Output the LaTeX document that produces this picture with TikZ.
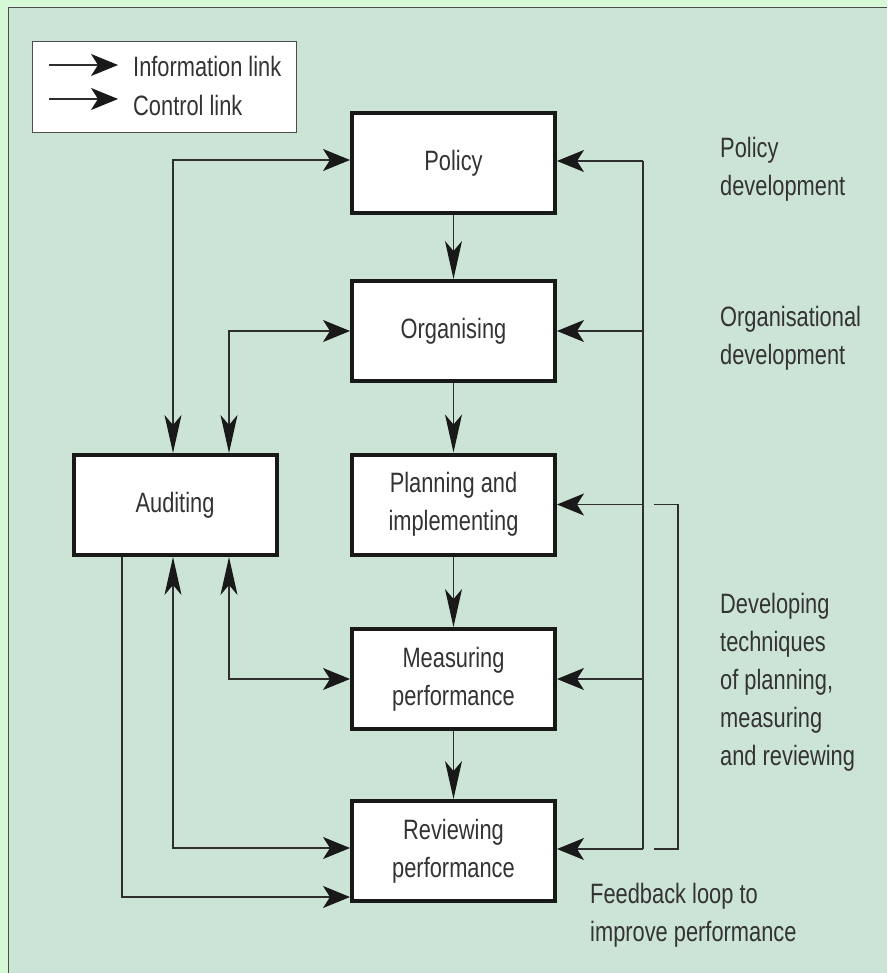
\documentclass[tikz,border=0pt]{standalone}
\usepackage{fontspec}
\setmainfont[FakeStretch=0.78]{Liberation Sans}
\usetikzlibrary{arrows.meta}
\definecolor{panel}{HTML}{CCE4D6}
\definecolor{rim}{HTML}{D6F8D6}
\definecolor{ink}{HTML}{2E2E2E}
\begin{document}
\begin{tikzpicture}[x=1pt, y=-1pt]
    \tikzset{htip/.tip={Stealth[length=27pt, width=22pt, inset=7pt, color=black!90]}}
    \tikzset{vtip/.tip={Stealth[length=38pt, width=17pt, inset=10pt, color=black!90]}}
    \tikzset{box/.style={draw=black!90, line width=4pt, fill=white, minimum width=203pt, minimum height=100pt, align=center, text=black!80, font=\fontsize{28}{38}\selectfont}}
    \tikzset{note/.style={align=left, anchor=base west, inner sep=0pt, text=black!80, font=\fontsize{28}{38}\selectfont}}
    \tikzset{link/.style={draw=ink, line width=1.3pt}}

    \useasboundingbox (0,0) rectangle (887,973);
    \fill[rim] (0,0) rectangle (887,973);
    \fill[panel] (8,8) rectangle (887,973);
    \draw[gray!60!black, line width=1pt] (8,973) -- (8,8) -- (887,8);

    \node[draw=black!70, fill=white, line width=1pt, minimum width=264pt, minimum height=91pt] (Legend) at (164.5,87) {};
    \coordinate (InfoTail) at (49,65);
    \coordinate (CtrlTail) at (49,99);
    \draw[link,-htip] (InfoTail) -- ++(69,0);
    \draw[link,-htip] (CtrlTail) -- ++(69,0);
    \node[note] (InfoText) at (133,77) {Information link};
    \node[note] (CtrlText) at (133,116) {Control link};

    \node[box] (Policy) at (453.5,163) {Policy};
    \node[box] (Organising) at (453.5,331) {Organising};
    \node[box] (Planning) at (453.5,504.5) {Planning and\\implementing};
    \node[box] (Measuring) at (453.5,679) {Measuring\\performance};
    \node[box] (Reviewing) at (453.5,851) {Reviewing\\performance};
    \node[box] (Auditing) at (175,505) {Auditing};

    \foreach \i/\j in {Policy/Organising,Organising/Planning,Planning/Measuring,Measuring/Reviewing}{
        \draw[link,-vtip] (\i) -- (\j);
    }

    \coordinate (LoopTop) at (643,161);
    \coordinate (LoopBottom) at (643,849);
    \draw[link] (LoopTop) -- (LoopBottom);
    \foreach \i in {Organising,Planning,Measuring}{
        \draw[link,-htip] (LoopTop |- \i.east) -- (\i.east);
    }
    \draw[link,-htip] (LoopTop) -- (LoopTop -| Policy.east);
    \draw[link,-htip] (LoopBottom) -- (LoopBottom -| Reviewing.east);
    \draw[link] ([xshift=97pt]Planning.east) -- ++(24,0) |- ([xshift=97pt,yshift=2pt]Reviewing.east);

    \draw[link,vtip-htip] ([xshift=-2pt]Auditing.north) |- ([yshift=3pt]Policy.west);
    \draw[link,vtip-htip] ([xshift=54pt]Auditing.north) |- (Organising.west);
    \draw[link,vtip-htip] ([xshift=54pt]Auditing.south) |- (Measuring.west);
    \draw[link,vtip-htip] ([xshift=-2pt]Auditing.south) |- ([yshift=3pt]Reviewing.west);
    \draw[link,-htip] ([xshift=-53pt]Auditing.south) |- ([yshift=6pt]Reviewing.south west);

    \node[note] (PolicyNote) at (720,196) {Policy\\development};
    \node[note] (OrgNote) at (720,364) {Organisational\\development};
    \node[note] (TechNote) at (720,765) {Developing\\techniques\\of planning,\\measuring\\and reviewing};
    \node[note] (LoopNote) at (590,941) {Feedback loop to\\improve performance};
\end{tikzpicture}
\end{document}
